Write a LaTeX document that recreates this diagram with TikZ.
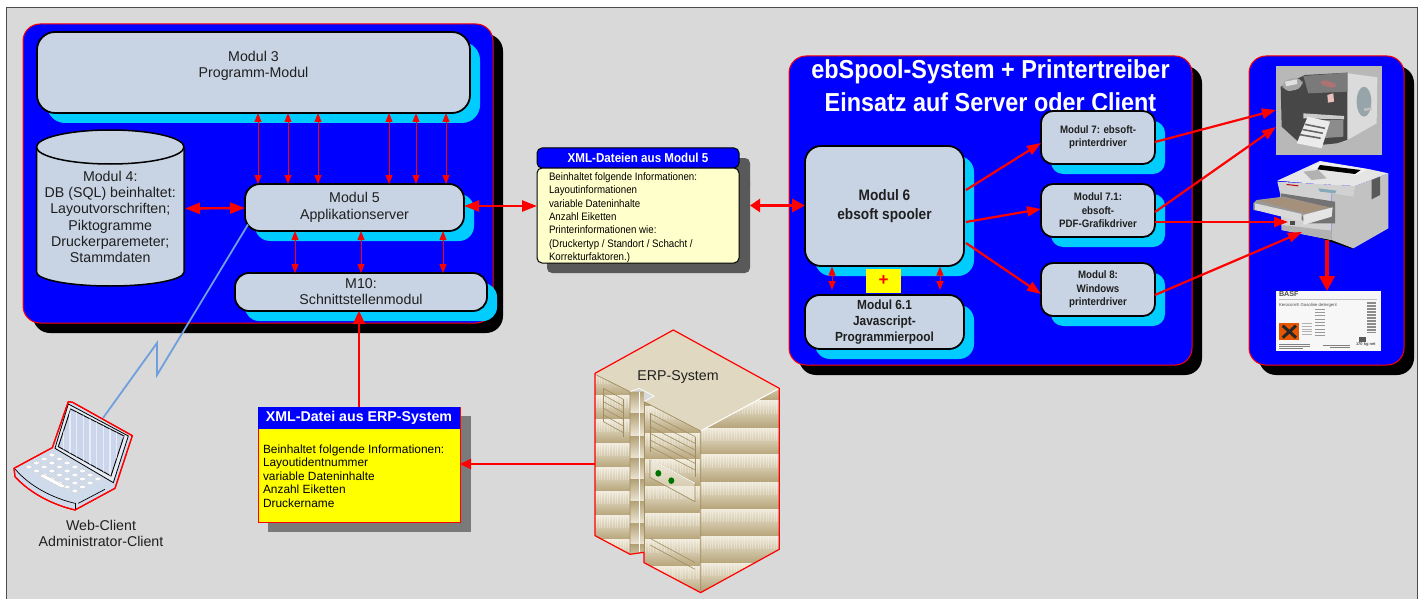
\documentclass[tikz,border=0pt]{standalone}
\usepackage{fontspec}
\setmainfont{Liberation Sans}
\newfontfamily\condA[FakeStretch=0.9]{Liberation Sans}
\usetikzlibrary{arrows.meta,shadows,calc}
\definecolor{bgG}{HTML}{D9D9D9}
\definecolor{panelB}{HTML}{0000FF}
\definecolor{boxF}{HTML}{C8D4E4}
\definecolor{cyanS}{HTML}{00CCFF}
\definecolor{noteF}{HTML}{FFFFCC}
\definecolor{pureY}{HTML}{FFFF00}
\definecolor{pureR}{HTML}{FF0000}
\definecolor{lightningC}{HTML}{6F9FDC}
\definecolor{sTop}{HTML}{E0D8C0}
\definecolor{sLight}{HTML}{EFE9D9}
\definecolor{sDark}{HTML}{B5A378}
\definecolor{sEdge}{HTML}{A08E60}
\definecolor{lapBase}{HTML}{CFDBEA}
\definecolor{lapFrame}{HTML}{E6ECF4}
\definecolor{lapScreen}{HTML}{CBD6EC}
\newcommand{\fsz}[2]{\fontsize{#1}{#2}\selectfont}
\tikzset{
  panel/.style={draw=pureR,line width=1pt,fill=panelB,rounded corners=17pt,outer sep=0pt,inner sep=0pt,
     general shadow={shadow xshift=10pt,shadow yshift=-10pt,fill=black,draw=none}},
  modbox/.style={draw=black,line width=1.8pt,fill=boxF,outer sep=0pt,inner sep=0pt,align=center,
     rounded corners=#1,text=black!88,
     general shadow={shadow xshift=10pt,shadow yshift=-10pt,fill=cyanS,draw=none}},
  modbox/.default=15pt,
  thinarr/.style={draw=pureR,line width=1pt,{Triangle[length=9pt,width=7pt]}-{Triangle[length=9pt,width=7pt]}},
  medarr/.style={draw=pureR,line width=2.2pt,-{Triangle[length=14pt,width=10pt]}},
  thickboth/.style={draw=pureR,line width=2.4pt,{Triangle[length=15pt,width=11pt]}-{Triangle[length=15pt,width=11pt]}},
  plain/.style={inner sep=0pt,outer sep=0pt,align=center,text=black!88},
  ghost/.style={inner sep=0pt,outer sep=0pt},
}
\begin{document}
\begin{tikzpicture}[x=1pt,y=-1pt]
\useasboundingbox (0,0) rectangle (1424,599);
\fill[white] (0,0) rectangle (1424,599);
\draw[fill=bgG,draw=black!70,line width=1pt] (6,8) rectangle (1417,620);

% panels
\node[panel,minimum width=470pt,minimum height=299pt] (p1) at (258,173.5) {};
\node[panel,minimum width=403pt,minimum height=309pt] (p2) at (990.5,210.5) {};
\node[panel,minimum width=155pt,minimum height=309pt] (p3) at (1326.5,210.5) {};

% panel 1 content
\node[modbox=18pt,minimum width=433pt,minimum height=81pt] (m3) at (253.5,72.5) {};
\node[plain,font=\fsz{14.2}{16}] at (253.5,65.5) {Modul 3\\Programm-Modul};
\draw[draw=black,line width=1.5pt,fill=boxF] (36.5,147) -- (36.5,272) arc[start angle=180,end angle=360,x radius=73.75pt,y radius=14pt] -- (184,147);
\draw[draw=black,line width=1.5pt,fill=boxF] (110.25,147) ellipse[x radius=73.75pt,y radius=17pt];
\node[plain,minimum width=147.5pt,font=\fsz{14.2}{16.2}] (m4) at (110.25,217) {Modul 4:\\DB (SQL) beinhaltet:\\Layoutvorschriften;\\Piktogramme\\Druckerparemeter;\\Stammdaten};
\node[modbox=15pt,minimum width=219pt,minimum height=47pt] (m5) at (354.5,207.5) {};
\node[plain,font=\fsz{14.2}{17}] at (354.5,207) {Modul 5\\Applikationserver};
\node[modbox=14pt,minimum width=252pt,minimum height=38pt,font=\fsz{14.2}{16}] (m10) at (361,292) {M10:\\Schnittstellenmodul};

% xml notes
\fill[black!65,rounded corners=5pt] (547,158) rectangle (750,190);
\fill[black!65,rounded corners=5pt] (547,178) rectangle (750,273);
\node[draw=black,line width=1pt,fill=panelB,rounded corners=5pt,minimum width=202pt,minimum height=20pt,ghost,text=white,font=\condA\bfseries\fsz{12.9}{14}] (xh) at (638,158) {XML-Dateien aus Modul 5};
\node[draw=black,line width=1pt,fill=noteF,rounded corners=5pt,minimum width=202pt,minimum height=95pt,ghost] (xb) at (638,215.5) {};
\node[plain,align=left,anchor=north west,font=\condA\fsz{10.8}{13.4},text=black] at (549,172.5) {Beinhaltet folgende Informationen:\\Layoutinformationen\\variable Dateninhalte\\Anzahl Eiketten\\Printerinformationen wie:\\(Druckertyp / Standort / Schacht /\\Korrekturfaktoren.)};

% panel 2 content
\node[plain,text=white,font=\condA\bfseries\fsz{26}{33}] at (990.5,85.5) {ebSpool-System + Printertreiber\\Einsatz auf Server oder Client};
\node[modbox=16pt,minimum width=159pt,minimum height=120pt,font=\condA\bfseries\fsz{15.2}{19.5}] (m6) at (884.5,206) {Modul 6\\ebsoft spooler};
\node[draw=none,fill=pureY,ghost,minimum width=35pt,minimum height=24pt,text=pureR,font=\bfseries\fsz{17}{17}] (plus) at (883.5,281) {+};
\node[modbox=15pt,minimum width=159pt,minimum height=54pt,font=\condA\bfseries\fsz{13.2}{16}] (m61) at (884.5,322) {Modul 6.1\\Javascript-\\Programmierpool};
\node[modbox=12pt,minimum width=114pt,minimum height=53pt,font=\condA\bfseries\fsz{10.8}{13.4}] (m7) at (1098,137.5) {Modul 7: ebsoft-\\printerdriver};
\node[modbox=12pt,minimum width=114pt,minimum height=53pt,font=\condA\bfseries\fsz{10.8}{13.4}] (m71) at (1098,210.5) {Modul 7.1:\\ebsoft-\\PDF-Grafikdriver};
\node[modbox=12pt,minimum width=114pt,minimum height=53pt,font=\condA\bfseries\fsz{10.8}{13.4}] (m8) at (1098,289.5) {Modul 8:\\Windows\\printerdriver};

% label printer picture
\node[ghost,fill=black!28,minimum width=106pt,minimum height=89pt] (lp) at (1329,110.5) {};
\begin{scope}[shift={(1240,60)},x=0.3333pt,y=-0.3333pt]
  \fill[black!14] (310,38) -- (412,52) -- (410,190) -- (310,247) -- cycle;
  \fill[cyan!25!black!50] (372,125) ellipse[x radius=22,y radius=45];
  \fill[black!25] (372,145) -- (395,142) -- (395,150) -- (372,153) -- cycle;
  \fill[black!72] (122,80) -- (195,45) -- (322,38) -- (322,240) -- (290,250) -- (240,255) -- (180,250) -- (125,200) -- cycle;
  \fill[black!52] (190,48) -- (322,38) -- (322,95) -- (205,100) -- cycle;
  \fill[black!35,rounded corners=8] (125,62) -- (185,50) -- (190,85) -- (130,97) -- cycle;
  \fill[black!12] (135,65) -- (170,58) -- (172,72) -- (138,79) -- cycle;
  \fill[red!40!black!55,rotate around={-15:(265,72)}] (265,72) ellipse[x radius=24,y radius=9];
  \fill[black!30!red!25] (262,105) -- (280,100) -- (282,125) -- (264,128) -- cycle;
  \fill[black!20] (190,160) -- (312,168) -- (312,178) -- (190,175) -- cycle;
  \fill[black!45] (250,180) -- (310,180) -- (310,230) -- (240,235) -- cycle;
  \fill[white!92!black] (203,170) -- (270,185) -- (245,265) -- (170,250) -- cycle;
  \foreach \q in {0,0.33,0.66}{
    \draw[black!60,line width=1.6pt] ($(195,193)!\q!(172,240)$) -- ($(255,205)!\q!(235,250)$);
  }
\end{scope}

% laser printer picture
\node[ghost,minimum width=135pt,minimum height=87pt] (lz) at (1320.5,204.5) {};
\begin{scope}[shift={(1240,160)},x=0.3333pt,y=-0.3333pt]
  \fill[black] (185,215) -- (275,210) -- (340,268) -- (280,248) -- cycle;
  \fill[black!24] (275,100) -- (345,78) -- (445,40) -- (445,205) -- (340,265) -- (275,240) -- cycle;
  \fill[black!18] (112,65) -- (345,78) -- (340,110) -- (275,100) -- (275,240) -- (125,210) -- (120,100) -- cycle;
  \fill[black!10] (112,62) -- (240,3) -- (390,28) -- (445,40) -- (345,78) -- (230,72) -- cycle;
  \fill[black!6] (205,25) -- (240,5) -- (385,28) -- (350,45) -- cycle;
  \fill[black] (240,15) -- (362,30) -- (345,42) -- (232,28) -- cycle;
  \fill[black!30] (190,35) -- (235,30) -- (260,55) -- (215,60) -- cycle;
  \fill[black!65] (395,60) -- (420,50) -- (420,105) -- (395,118) -- cycle;
  \fill[cyan!50!black!60] (235,85) -- (290,92) -- (285,100) -- (240,95) -- cycle;
  \fill[red!75!black] (140,72) -- (175,76) -- (175,79) -- (140,75) -- cycle;
  \fill[black!55] (122,100) -- (285,125) -- (285,190) -- (200,190) -- (122,135) -- cycle;
  \fill[black!30] (125,195) -- (275,212) -- (275,240) -- (125,210) -- cycle;
  \fill[black!40] (40,130) -- (50,120) -- (130,110) -- (280,145) -- (190,170) -- (40,150) -- cycle;
  \fill[brown!55!black!60] (55,122) -- (130,112) -- (270,143) -- (195,160) -- cycle;
  \fill[white!85!black] (45,130) -- (185,162) -- (185,185) -- (45,150) -- cycle;
  \fill[white!90!black] (190,165) -- (278,142) -- (275,170) -- (190,195) -- cycle;
  \fill[black!70] (150,183) rectangle (165,195);
\end{scope}

% label picture
\node[ghost,fill=black!3,minimum width=105pt,minimum height=60pt] (lbl) at (1328.5,321) {};
\begin{scope}[shift={(1270,285)},x=0.3333pt,y=-0.3333pt]
  \node[ghost,anchor=west,font=\bfseries\fsz{7.2}{8},text=black!70] at (27,28) {BASF};
  \node[ghost,anchor=west,font=\fsz{4.3}{5},text=black!70] at (27,62) {Kerocom® Gasoline detergent};
  \draw[black!25,line width=.4pt] (27,44) -- (320,44);
  \foreach \yy in {72,82,92,102,112,122,132,142,152}{\draw[black!40,line width=.6pt] (135,\yy) -- (165,\yy);}
  \foreach \yy in {116,124,132,140,148}{\draw[black!30,line width=.6pt] (95,\yy) -- (125,\yy);}
  \fill[orange!75!red!90!black] (27,115) rectangle (88,165);
  \draw[black!85,line width=3pt] (38,122) -- (78,158) (78,122) -- (38,158);
  \foreach \yy in {52,56.5,...,145}{\draw[black!45,line width=.8pt] (292,\yy) -- (318,\yy);}
  \fill[black!65] (268,155) rectangle (288,170);
  \draw[black!50,line width=.8pt] (27,178) -- (120,178) (27,184) -- (120,184) (27,190) -- (100,190);
  \draw[black!50,line width=.8pt] (160,180) -- (240,180) (180,187) -- (240,187);
  \node[ghost,anchor=west,font=\bfseries\fsz{4}{5},text=black!70] at (258,179) {170 kg net};
\end{scope}

% server
\node[ghost,minimum width=184pt,minimum height=263pt] (srv) at (687,461.5) {};
\begin{scope}[shift={(570,320)},x=0.3333pt,y=-0.3333pt]
  \begin{scope}
    \clip (392,333) -- (628,205) -- (628,688) -- (392,818) -- cycle;
    \fill[sDark] (392,205) rectangle (628,818);
    \foreach \b in {162,243,325,405,487,568,650,730}{
      \shade[top color=sLight,bottom color=sDark] (392,\b) rectangle (628,\b+81);
      \foreach \s in {396,404,...,626}{\draw[white,opacity=.3,line width=.8pt] (\s,\b) -- (\s,\b+38);}
    }
  \end{scope}
  \begin{scope}
    \clip (75,160) -- (180,215) -- (180,703) -- (75,647) -- cycle;
    \fill[sDark] (75,160) rectangle (180,703);
    \foreach \b in {156,228,300,372,444,516,588,660}{
      \shade[top color=sLight,bottom color=sDark] (75,\b) rectangle (180,\b+72);
      \foreach \s in {79,87,...,178}{\draw[white,opacity=.3,line width=.8pt] (\s,\b) -- (\s,\b+35);}
    }
  \end{scope}
  \begin{scope}
    \clip (222,245) -- (392,333) -- (392,818) -- (222,728) -- cycle;
    \fill[sDark] (222,245) rectangle (392,818);
    \foreach \b in {260,340,420,500,580,660,740}{
      \shade[top color=sLight,bottom color=sDark] (222,\b) rectangle (392,\b+80);
      \foreach \s in {226,234,...,390}{\draw[white,opacity=.3,line width=.8pt] (\s,\b) -- (\s,\b+38);}
    }
  \end{scope}
  \begin{scope}
    \clip (180,215) -- (222,215) -- (222,697) -- (180,703) -- cycle;
    \foreach \b in {215,282,350,415,480,545,610,675}{
      \shade[top color=sDark,bottom color=sLight] (180,\b) rectangle (222,\b+67);
    }
  \end{scope}
  \draw[white,line width=.6pt] (208,215) -- (208,697);
  \fill[sTop] (75,160) -- (310,30) -- (628,205) -- (392,333) -- (222,245) -- (252,228) -- (208,205) -- (180,215) -- cycle;
  \draw[white,line width=1pt] (392,333) -- (628,205);
  \draw[white,line width=.7pt] (222,245) -- (252,228) -- (208,205) -- (180,215);
  \draw[sEdge,line width=.7pt] (75,163) -- (180,215) -- (180,703);
  \draw[sEdge,line width=.7pt] (222,245) -- (392,333) -- (392,818);
  \draw[sEdge,line width=.7pt] (222,245) -- (222,697);
  \foreach \d in {0,20,...,100}{\draw[sEdge,line width=.6pt] (100,205+\d) -- (160,238+\d);}
  \draw[sEdge,line width=.6pt] (100,205) -- (100,305) (160,238) -- (160,352);
  \foreach \d in {0,20,...,100}{\draw[sEdge,line width=.6pt] (240,280+\d) -- (375,350+\d);}
  \draw[sEdge,line width=.6pt] (240,280) -- (240,395) (375,350) -- (375,470);
  \draw[sEdge,fill=sLight,fill opacity=.6,line width=.7pt] (240,418) -- (375,490) -- (375,545) -- (240,472) -- cycle;
  \draw[white,line width=.8pt] (240,418) -- (375,490);
  \fill[green!45!black] (265,460) ellipse[x radius=9,y radius=10];
  \fill[green!45!black] (304,482) ellipse[x radius=9,y radius=10];
  \draw[sEdge,line width=.6pt] (240,655) -- (375,728) (240,675) -- (375,748);
  \draw[pureR,line width=1.2pt,line join=round] (75,160) -- (310,30) -- (628,205) -- (628,688) -- (392,818) -- (222,728) -- (222,697) -- (180,703) -- (75,647) -- cycle;
\end{scope}
\node[plain,font=\fsz{14.2}{16}] (erp) at (678,377) {ERP-System};

% XML-Datei box
\fill[black!52] (268,416) rectangle (471,532);
\node[ghost,draw=pureR,line width=1pt,fill=pureY,minimum width=202pt,minimum height=115pt] (xd) at (359,464.5) {};
\node[ghost,fill=panelB,minimum width=202pt,minimum height=22pt,text=white,font=\bfseries\fsz{14.2}{15}] (xdh) at (359,418) {XML-Datei aus ERP-System};
\node[plain,align=left,anchor=north west,font=\fsz{11.9}{13.5},text=black] at (263,444.5) {Beinhaltet folgende Informationen:\\Layoutidentnummer\\variable Dateninhalte\\Anzahl Eiketten\\Druckername};

% lightning
\node[ghost,minimum width=118pt,minimum height=108pt] (lap) at (73,456) {};
\coordinate (zz1) at (157,375);
\coordinate (zz2) at (157,343);
\draw[lightningC,line width=1.8pt,line join=miter] ([xshift=3pt,yshift=-17pt]m5.west) -- (zz1) -- (zz2) -- ([xshift=30pt,yshift=38pt]lap.center);

% laptop
\begin{scope}[shift={(0,330)},x=0.3333pt,y=-0.3333pt]
  \draw[pureR,line width=1.2pt,fill=lapBase,line join=round] (42,415) -- (157,353) -- (205,215) -- (218,217) -- (397,317) -- (345,475) -- (225,540) .. controls (160,525) and (90,490) .. (45,440) -- cycle;
  \draw[black,line width=.8pt,fill=lapFrame] (205,222) -- (385,318) -- (340,458) -- (165,355) -- cycle;
  \draw[black,line width=.9pt,fill=lapScreen] (212,237) -- (372,318) -- (333,438) -- (175,350) -- cycle;
  \begin{scope}
    \clip (212,237) -- (372,318) -- (333,438) -- (175,350) -- cycle;
    \foreach \s in {170,190,...,370}{\draw[white,opacity=.55,line width=1.6pt] (\s,230) -- (\s,440);}
  \end{scope}
  \foreach \i in {0,...,6}{\foreach \j in {0,...,3}{
    \fill[white,draw=black!25,line width=.2pt] ({155+23*(\i-\j)-11},{375+12*(\i+\j)}) -- ({155+23*(\i-\j)},{375+12*(\i+\j)-6}) -- ({155+23*(\i-\j)+13},{375+12*(\i+\j)}) -- ({155+23*(\i-\j)},{375+12*(\i+\j)+6}) -- cycle;
  }}
  \fill[white,draw=black!25,line width=.2pt] (118,438) -- (130,432) -- (198,468) -- (186,474) -- cycle;
  \draw[black,line width=.7pt] (46,418) .. controls (90,470) and (160,505) .. (225,520);
  \draw[black,line width=.5pt] (225,520) -- (225,540);
  \draw[black,line width=.7pt] (235,520) -- (315,478);
  \draw[pureR,line width=1.2pt,line join=round] (42,415) -- (157,353) -- (205,215) -- (218,217) -- (397,317) -- (345,475) -- (225,540) .. controls (160,525) and (90,490) .. (45,440) -- cycle;
\end{scope}
\node[plain,font=\fsz{14.2}{16}] (web) at (101,533) {Web-Client\\Administrator-Client};

% connectors
\foreach \xx in {258,288,318,389,416,446}{
  \draw[thinarr] ([xshift={\xx-253.5}]m3.south) -- ([xshift={\xx-354.5}]m5.north);
}
\foreach \xx in {295,361,443}{
  \draw[thinarr] ([xshift={\xx-354.5}]m5.south) -- ([xshift={\xx-361}]m10.north);
}
\draw[thickboth] ([xshift=1pt,yshift=8.5pt]m4.east) -- ([yshift=-0.5pt]m5.west);
\draw[thickboth] ([yshift=1.5pt]m5.east) -- ([yshift=9.5pt]xb.west);
\draw[draw=pureR,line width=3.5pt,{Triangle[length=10pt,width=13pt]}-{Triangle[length=13pt,width=13pt]}] ([xshift=11pt,yshift=10pt]xb.east) -- ([yshift=0.5pt]m6.west);
\draw[thinarr] ([xshift=-52.5pt,yshift=-0.5pt]m6.south) -- ([xshift=-52.5pt,yshift=5pt]m61.north);
\draw[thinarr] ([xshift=55.5pt,yshift=-0.5pt]m6.south) -- ([xshift=55.5pt,yshift=5pt]m61.north);
\draw[medarr] ([yshift=16pt,xshift=2pt]m6.east) -- ([yshift=-5.5pt]m7.west);
\draw[medarr] ([yshift=-16pt,xshift=2pt]m6.east) -- ([yshift=1.5pt]m71.west);
\draw[medarr] ([yshift=-37pt,xshift=2pt]m6.east) -- ([yshift=-4.5pt]m8.west);
\draw[medarr] ([yshift=-4.5pt]m7.east) -- ([yshift=0.5pt]lp.west);
\draw[medarr] ([yshift=-1.5pt]m71.east) -- ([yshift=-16.5pt]lp.west);
\draw[medarr] ([yshift=-11.5pt]m71.east) -- ([xshift=-32.5pt,yshift=-17.5pt]lz.center);
\draw[medarr] ([yshift=-5.5pt]m8.east) -- ([xshift=-18.5pt,yshift=-27.5pt]lz.center);
\draw[draw=pureR,line width=4pt,-{Triangle[length=15pt,width=15pt]}] ([xshift=6.5pt,yshift=-35.5pt]lz.center) -- ([xshift=-1.5pt]lbl.north);
\draw[draw=pureR,line width=2.2pt,-{Triangle[length=13pt,width=12pt]}] (xdh.north) -- (xdh.north |- m10.south);
\draw[draw=pureR,line width=2.2pt,-{Triangle[length=11pt,width=10pt]}] ([yshift=-2.5pt]srv.west) -- ([yshift=-2.5pt]srv.west -| xd.east);
\end{tikzpicture}
\end{document}
